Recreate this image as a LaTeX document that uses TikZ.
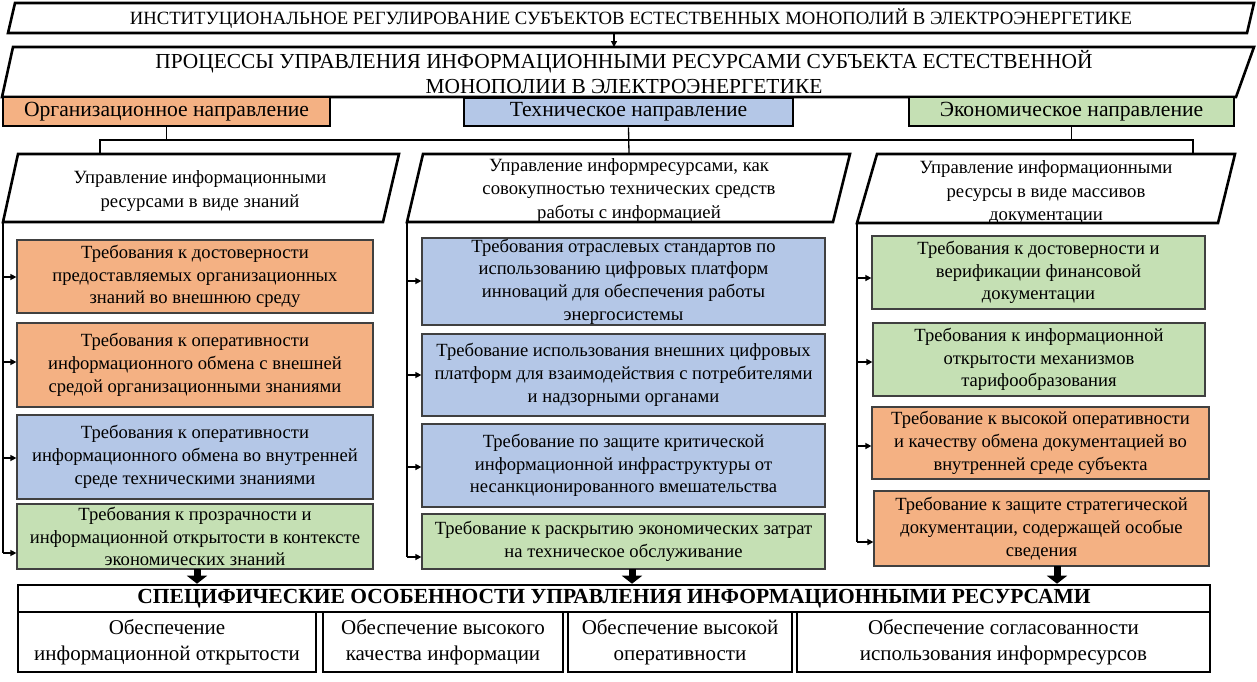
\documentclass[tikz,border=0pt]{standalone}
\usepackage{fontspec}
\setmainfont{Liberation Serif}
\usetikzlibrary{arrows.meta,calc}
\definecolor{orgc}{HTML}{F4B183}
\definecolor{tecc}{HTML}{B4C7E7}
\definecolor{ecoc}{HTML}{C5E0B4}
\newcommand\myfs[2]{\fontsize{#1}{#2}\selectfont}
\begin{document}
\begin{tikzpicture}[x=1pt,y=-1pt,
  shapeline/.style={line width=2.6pt, line join=miter},
  conn/.style={line width=1.3pt},
  arr/.style={conn,-{Triangle[width=6pt,length=6pt]}},
  bigarr/.style={line width=7pt,-{Triangle[width=20pt,length=8pt]}},
  txt/.style={align=center, inner sep=0pt},
  dirbox/.style={draw, line width=2.6pt, txt, font=\myfs{21.6}{24}},
  req/.style={draw=black!75, line width=1.2pt, txt, font=\myfs{18.6}{22.7}},
  ptxt/.style={txt, font=\myfs{18.7}{23.5}},
  outbox/.style={draw, line width=2pt, txt, font=\myfs{21}{26.5}}
]
\useasboundingbox (0,0) rectangle (1257,681);
% level 1
\draw[shapeline] (8,33) -- (15,3) -- (1254,3) -- (1247,33) -- cycle;
\node[txt, font=\myfs{18.7}{20}] (t1) at (631,18.5) {ИНСТИТУЦИОНАЛЬНОЕ РЕГУЛИРОВАНИЕ СУБЪЕКТОВ ЕСТЕСТВЕННЫХ МОНОПОЛИЙ В ЭЛЕКТРОЭНЕРГЕТИКЕ};
% level 2
\draw[shapeline] (2,97) -- (13,47) -- (1254,47) -- (1236,97) -- cycle;
\node[txt, font=\myfs{21.4}{25.5}] (t2) at (624,72) {ПРОЦЕССЫ УПРАВЛЕНИЯ ИНФОРМАЦИОННЫМИ РЕСУРСАМИ СУБЪЕКТА ЕСТЕСТВЕННОЙ\\ МОНОПОЛИИ В ЭЛЕКТРОЭНЕРГЕТИКЕ};
\coordinate (b1s) at (614,33);
\coordinate (b2n) at (614,47);
\draw[arr] (b1s) -- (b2n);
% directions
\node[dirbox, fill=orgc, minimum width=327pt, minimum height=29pt] (org) at (166.5,111.5) {Организационное направление};
\node[dirbox, fill=tecc, minimum width=329pt, minimum height=28pt] (tec) at (628.5,112) {Техническое направление};
\node[dirbox, fill=ecoc, minimum width=325pt, minimum height=29pt] (eco) at (1071.5,111.5) {Экономическое направление};
% parallelograms level 3
\draw[shapeline] (3,222) -- (18,154) -- (399,154) -- (383,222) -- cycle;
\node[ptxt] (p1) at (200,191) {Управление информационными\\ ресурсами в виде знаний};
\draw[shapeline] (407,222) -- (423,154) -- (850,154) -- (833,222) -- cycle;
\node[ptxt] (p2) at (629,190) {Управление информресурсами, как\\ совокупностью технических средств\\ работы с информацией};
\draw[shapeline] (857,223) -- (877,154) -- (1235,154) -- (1218,223) -- cycle;
\node[ptxt] (p3) at (1046,193) {Управление информационными\\ ресурсы в виде массивов\\ документации};
% tree connectors
\coordinate (h1) at (100,140);
\coordinate (h2) at (1193,140);
\coordinate (p1n) at (100,154);
\coordinate (p2n) at (629,154);
\coordinate (p3n) at (1193,154);
\draw[conn] (org.south) -- (org.south |- h1);
\draw[conn] (eco.south) -- (eco.south |- h1);
\draw[conn] (tec.south) -- (p2n);
\draw[conn] (p1n) -- (h1) -- (h2) -- (p3n);
% column 1
\node[req, fill=orgc, minimum width=356pt, minimum height=73pt] (A1) at (195,276.5) {Требования к достоверности\\ предоставляемых организационных\\ знаний во внешнюю среду};
\node[req, fill=orgc, minimum width=356pt, minimum height=84pt] (A2) at (195,365) {Требования к оперативности\\ информационного обмена с внешней\\ средой организационными знаниями};
\node[req, fill=tecc, minimum width=356pt, minimum height=84pt] (A3) at (195,457) {Требования к оперативности\\ информационного обмена во внутренней\\ среде техническими знаниями};
\node[req, fill=ecoc, minimum width=356pt, minimum height=65pt] (A4) at (195,536.5) {Требования к прозрачности и\\ информационной открытости в контексте\\ экономических знаний};
% column 2
\node[req, fill=tecc, minimum width=403pt, minimum height=87pt] (B1) at (623.5,281.5) {Требования отраслевых стандартов по\\ использованию цифровых платформ\\ инноваций для обеспечения работы\\ энергосистемы};
\node[req, fill=tecc, minimum width=403pt, minimum height=82pt] (B2) at (623.5,375) {Требование использования внешних цифровых\\ платформ для взаимодействия с потребителями\\ и надзорными органами};
\node[req, fill=tecc, minimum width=403pt, minimum height=83pt] (B3) at (623.5,465.5) {Требование по защите критической\\ информационной инфраструктуры от\\ несанкционированного вмешательства};
\node[req, fill=ecoc, minimum width=403pt, minimum height=55pt] (B4) at (623.5,541.5) {Требование к раскрытию экономических затрат\\ на техническое обслуживание};
% column 3
\node[req, fill=ecoc, minimum width=333pt, minimum height=73pt] (C1) at (1038.5,272.5) {Требования к достоверности и\\ верификации финансовой\\ документации};
\node[req, fill=ecoc, minimum width=332pt, minimum height=73pt] (C2) at (1039,359.5) {Требования к информационной\\ открытости механизмов\\ тарифообразования};
\node[req, fill=orgc, minimum width=337pt, minimum height=72pt] (C3) at (1040.5,443) {Требование к высокой оперативности\\ и качеству обмена документацией во\\ внутренней среде субъекта};
\node[req, fill=orgc, minimum width=335pt, minimum height=75pt] (C4) at (1041.5,528.5) {Требование к защите стратегической\\ документации, содержащей особые\\ сведения};
% bus lines col 1
\coordinate (bus1) at (3,222);
\coordinate (a1s) at (3,277);
\coordinate (a2s) at (3,362);
\coordinate (a3s) at (3,458);
\coordinate (a4s) at (3,553);
\draw[conn] (bus1) -- (a4s);
\draw[arr] (a1s) -- (A1.west |- a1s);
\draw[arr] (a2s) -- (A2.west |- a2s);
\draw[arr] (a3s) -- (A3.west |- a3s);
\draw[arr] (a4s) -- (A4.west |- a4s);
% bus col 2
\coordinate (bus2) at (407,222);
\coordinate (b1a) at (407,281);
\coordinate (b2a) at (407,375);
\coordinate (b3a) at (407,467);
\coordinate (b4a) at (407,557);
\draw[conn] (bus2) -- (b4a);
\draw[arr] (b1a) -- (B1.west |- b1a);
\draw[arr] (b2a) -- (B2.west |- b2a);
\draw[arr] (b3a) -- (B3.west |- b3a);
\draw[arr] (b4a) -- (B4.west |- b4a);
% bus col 3
\coordinate (bus3) at (857,223);
\coordinate (c1a) at (857,278);
\coordinate (c2a) at (857,362);
\coordinate (c3a) at (857,446);
\coordinate (c4a) at (857,542);
\draw[conn] (bus3) -- (c4a);
\draw[arr] (c1a) -- (C1.west |- c1a);
\draw[arr] (c2a) -- (C2.west |- c2a);
\draw[arr] (c3a) -- (C3.west |- c3a);
\draw[arr] (c4a) -- (C4.west |- c4a);
% bottom
\node[draw, line width=2.6pt, txt, minimum width=1192pt, minimum height=27pt, font=\bfseries\myfs{21.5}{24}] (hdr) at (614,598.5) {СПЕЦИФИЧЕСКИЕ ОСОБЕННОСТИ УПРАВЛЕНИЯ ИНФОРМАЦИОННЫМИ РЕСУРСАМИ};
\node[outbox, minimum width=298pt, minimum height=60pt] (D1) at (167,642) {Обеспечение\\ информационной открытости};
\node[outbox, minimum width=240pt, minimum height=60pt] (D2) at (443,642) {Обеспечение высокого\\ качества информации};
\node[outbox, minimum width=224pt, minimum height=60pt] (D3) at (680,642) {Обеспечение высокой\\ оперативности};
\node[outbox, minimum width=413pt, minimum height=60pt] (D4) at (1003.5,642) {Обеспечение согласованности\\ использования информресурсов};
% thick arrows
\coordinate (ar1) at (197,569);
\coordinate (ar2) at (632,569);
\coordinate (ar3) at (1057,566);
\draw[bigarr] (ar1) -- (ar1 |- hdr.north);
\draw[bigarr] (ar2) -- (ar2 |- hdr.north);
\draw[bigarr] (ar3) -- (ar3 |- hdr.north);
\end{tikzpicture}
\end{document}
